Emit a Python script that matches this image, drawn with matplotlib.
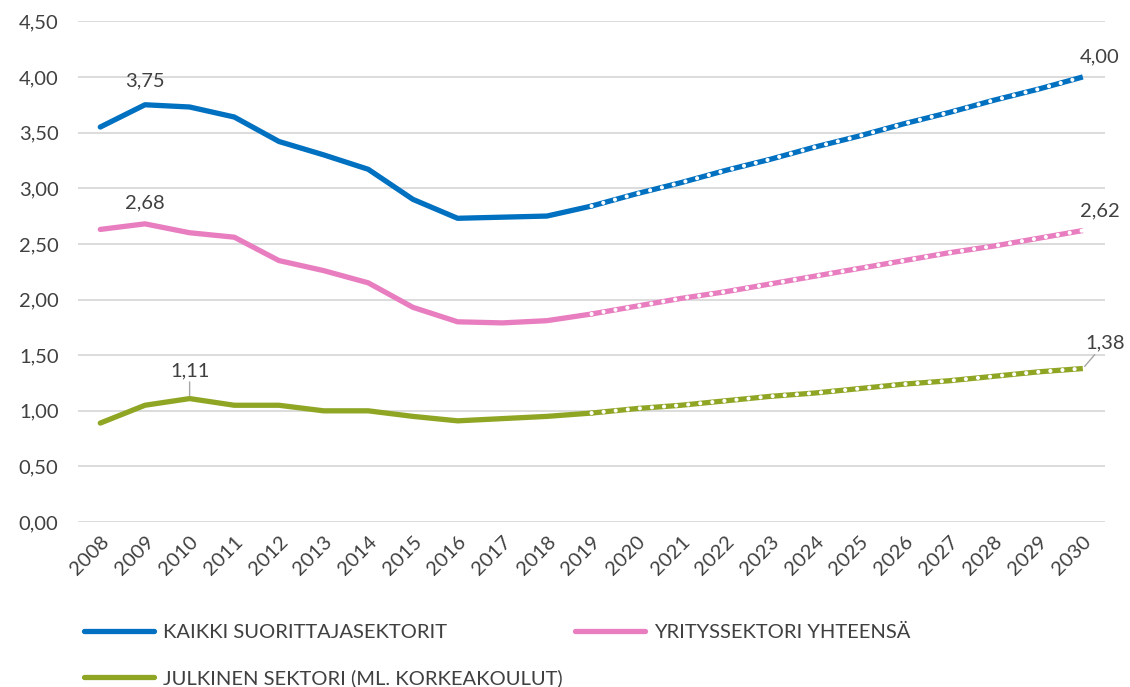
import matplotlib
matplotlib.use("Agg")
import matplotlib.pyplot as plt
from matplotlib.lines import Line2D

years = list(range(2008, 2031))
kaikki = [3.55, 3.75, 3.73, 3.64, 3.42, 3.30, 3.17, 2.90, 2.73, 2.74, 2.75, 2.84,
          2.95, 3.05, 3.16, 3.26, 3.37, 3.47, 3.58, 3.68, 3.79, 3.89, 4.00]
yritys = [2.63, 2.68, 2.60, 2.56, 2.35, 2.26, 2.15, 1.93, 1.80, 1.79, 1.81, 1.87,
          1.94, 2.01, 2.07, 2.14, 2.21, 2.28, 2.35, 2.42, 2.48, 2.55, 2.62]
julkinen = [0.89, 1.05, 1.11, 1.05, 1.05, 1.00, 1.00, 0.95, 0.91, 0.93, 0.95, 0.98,
            1.02, 1.05, 1.09, 1.13, 1.16, 1.20, 1.24, 1.27, 1.31, 1.35, 1.38]
names = ["KAIKKI SUORITTAJASEKTORIT", "YRITYSSEKTORI YHTEENSÄ",
         "JULKINEN SEKTORI (ML. KORKEAKOULUT)"]
colors = ["#0070C0", "#E87DC0", "#8FA625"]
yticks = [0.0, 0.5, 1.0, 1.5, 2.0, 2.5, 3.0, 3.5, 4.0, 4.5]
split_year = 2019

plt.rcParams['font.family'] = ['Lato', 'DejaVu Sans']
txt = "#404040"
fs = 14.5

fig = plt.figure(figsize=(11.3, 6.87), dpi=100)
ax = fig.add_axes([0.069, 0.240, 0.909, 0.729])

si = years.index(split_year)
for vals, c in zip([kaikki, yritys, julkinen], colors):
    ax.plot(years[:si + 1], vals[:si + 1], color=c, lw=3.8,
            solid_capstyle='round', solid_joinstyle='round', zorder=3)
    ax.plot(years[si:], vals[si:], color=c, lw=3.8,
            solid_capstyle='butt', zorder=3)
    ax.plot(years[si:], vals[si:], color='white', lw=3.0,
            linestyle=(0, (0.01, 2.9)), dash_capstyle='round', zorder=4)

ax.set_xlim(2007.5, 2030.5)
ax.set_ylim(0, 4.5)
ax.set_yticks(yticks)
ax.set_yticklabels([f"{v:.2f}".replace('.', ',') for v in yticks],
                   fontsize=fs, color=txt)
ax.set_xticks(years)
ax.set_xticklabels([str(y) for y in years], rotation=45, ha='right',
                   rotation_mode='anchor', fontsize=fs, color=txt)
ax.tick_params(length=0, pad=8)
ax.tick_params(axis='y', pad=14)
ax.grid(axis='y', color='#D9D9D9', lw=1.3)
ax.set_axisbelow(True)
for s in ax.spines.values():
    s.set_visible(False)

def fmt(v):
    return f"{v:.2f}".replace('.', ',')

# data labels
ax.annotate(fmt(kaikki[1]), (years[1], kaikki[1]), xytext=(0, 11),
            textcoords='offset points', ha='center', va='bottom', fontsize=fs, color=txt)
ax.annotate(fmt(yritys[1]), (years[1], yritys[1]), xytext=(0, 9),
            textcoords='offset points', ha='center', va='bottom', fontsize=fs, color=txt)
ax.annotate(fmt(julkinen[2]), (years[2], julkinen[2]), xytext=(0, 14),
            textcoords='offset points', ha='center', va='bottom', fontsize=fs, color=txt,
            arrowprops=dict(arrowstyle='-', color='#A6A6A6', lw=1, shrinkA=0, shrinkB=2))
ax.annotate(fmt(kaikki[-1]), (years[-1], kaikki[-1]), xytext=(12, 8),
            textcoords='offset points', ha='center', va='bottom', fontsize=fs, color=txt)
ax.annotate(fmt(yritys[-1]), (years[-1], yritys[-1]), xytext=(12, 8),
            textcoords='offset points', ha='center', va='bottom', fontsize=fs, color=txt)
ax.annotate(fmt(julkinen[-1]), (years[-1], julkinen[-1]), xytext=(16, 12),
            textcoords='offset points', ha='center', va='bottom', fontsize=fs, color=txt,
            arrowprops=dict(arrowstyle='-', color='#A6A6A6', lw=1, shrinkA=0, shrinkB=2,
                            relpos=(0.3, 0)))

handles = [Line2D([], [], color=colors[0], lw=3.8, solid_capstyle='round'),
           Line2D([], [], color=colors[2], lw=3.8, solid_capstyle='round'),
           Line2D([], [], color=colors[1], lw=3.8, solid_capstyle='round')]
labels = [names[0], names[2], names[1]]
leg = fig.legend(handles, labels, ncol=2, loc='upper left',
                 bbox_to_anchor=(0.074, 0.092), frameon=False, fontsize=fs,
                 handlelength=3.5, handletextpad=0.45, columnspacing=0.6,
                 labelspacing=1.4, borderaxespad=0, borderpad=0)
for t in leg.get_texts():
    t.set_color(txt)

fig.savefig("out.png", dpi=100)
